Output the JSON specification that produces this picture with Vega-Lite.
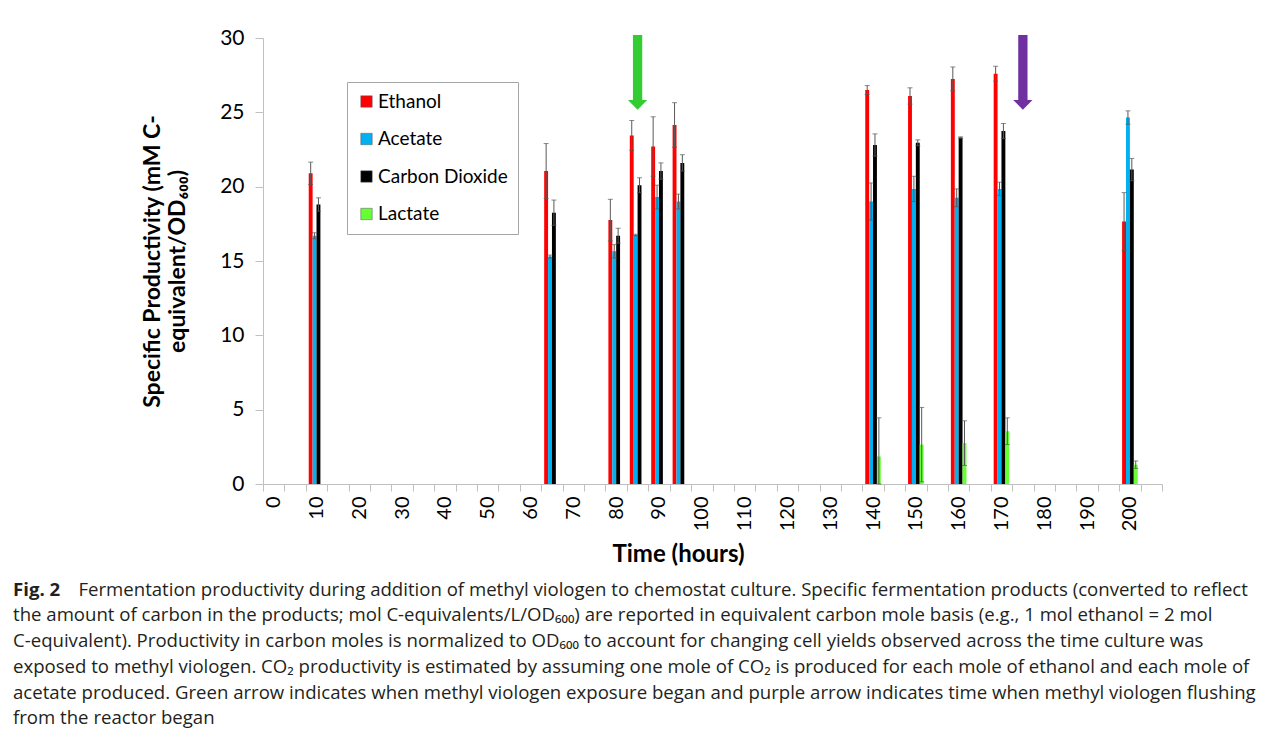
{
  "$schema": "https://vega.github.io/schema/vega-lite/v6.json",
  "autosize": "none",
  "padding": {"left": 263, "top": 38, "right": 122, "bottom": 256},
  "width": 899,
  "height": 446,
  "background": "white",
  "config": {
    "view": {"stroke": null},
    "font": "Lato"
  },
  "title": {
    "text": "Fig. 2",
    "subtitle": [
      "\u200b\u2003\u2003\u2003\u00a0\u00a0Fermentation productivity during addition of methyl viologen to chemostat culture. Specific fermentation products (converted to reflect",
      "the amount of carbon in the products; mol C-equivalents/L/OD₆₀₀) are reported in equivalent carbon mole basis (e.g., 1 mol ethanol = 2 mol",
      "C-equivalent). Productivity in carbon moles is normalized to OD₆₀₀ to account for changing cell yields observed across the time culture was",
      "exposed to methyl viologen. CO₂ productivity is estimated by assuming one mole of CO₂ is produced for each mole of ethanol and each mole of",
      "acetate produced. Green arrow indicates when methyl viologen exposure began and purple arrow indicates time when methyl viologen flushing",
      "from the reactor began"
    ],
    "orient": "bottom",
    "anchor": "start",
    "frame": "group",
    "dx": -250,
    "offset": 14,
    "font": "Open Sans",
    "fontSize": 18.6,
    "fontWeight": "bold",
    "color": "#231f20",
    "subtitleFont": "Open Sans",
    "subtitleFontSize": 18.6,
    "subtitleColor": "#231f20",
    "subtitleLineHeight": 25.7,
    "subtitlePadding": -18.6
  },
  "datasets": {
    "prod": [
      {"t": 10, "p": "Ethanol", "v": 20.9, "lo": 20.15, "hi": 21.65},
      {"t": 10, "p": "Acetate", "v": 16.7, "lo": 16.5, "hi": 16.9},
      {"t": 10, "p": "Carbon Dioxide", "v": 18.8, "lo": 18.35, "hi": 19.25},
      {"t": 65, "p": "Ethanol", "v": 21.05, "lo": 19.2, "hi": 22.9},
      {"t": 65, "p": "Acetate", "v": 15.3, "lo": 15.2, "hi": 15.4},
      {"t": 65, "p": "Carbon Dioxide", "v": 18.25, "lo": 17.4, "hi": 19.1},
      {"t": 80, "p": "Ethanol", "v": 17.75, "lo": 16.35, "hi": 19.15},
      {"t": 80, "p": "Acetate", "v": 15.65, "lo": 15.2, "hi": 16.1},
      {"t": 80, "p": "Carbon Dioxide", "v": 16.7, "lo": 16.2, "hi": 17.2},
      {"t": 85, "p": "Ethanol", "v": 23.45, "lo": 22.45, "hi": 24.45},
      {"t": 85, "p": "Acetate", "v": 16.75, "lo": 16.7, "hi": 16.8},
      {"t": 85, "p": "Carbon Dioxide", "v": 20.1, "lo": 19.6, "hi": 20.6},
      {"t": 90, "p": "Ethanol", "v": 22.7, "lo": 20.7, "hi": 24.7},
      {"t": 90, "p": "Acetate", "v": 19.3, "lo": 18.5, "hi": 20.1},
      {"t": 90, "p": "Carbon Dioxide", "v": 21.05, "lo": 20.5, "hi": 21.6},
      {"t": 95, "p": "Ethanol", "v": 24.15, "lo": 22.65, "hi": 25.65},
      {"t": 95, "p": "Acetate", "v": 19.0, "lo": 18.5, "hi": 19.5},
      {"t": 95, "p": "Carbon Dioxide", "v": 21.6, "lo": 21.05, "hi": 22.15},
      {"t": 140, "p": "Ethanol", "v": 26.5, "lo": 26.2, "hi": 26.8},
      {"t": 140, "p": "Acetate", "v": 19.0, "lo": 17.75, "hi": 20.25},
      {"t": 140, "p": "Carbon Dioxide", "v": 22.8, "lo": 22.05, "hi": 23.55},
      {"t": 140, "p": "Lactate", "v": 1.85, "lo": 0, "hi": 4.45},
      {"t": 150, "p": "Ethanol", "v": 26.1, "lo": 25.55, "hi": 26.65},
      {"t": 150, "p": "Acetate", "v": 19.85, "lo": 19.0, "hi": 20.7},
      {"t": 150, "p": "Carbon Dioxide", "v": 22.95, "lo": 22.75, "hi": 23.15},
      {"t": 150, "p": "Lactate", "v": 2.65, "lo": 0.15, "hi": 5.15},
      {"t": 160, "p": "Ethanol", "v": 27.25, "lo": 26.45, "hi": 28.05},
      {"t": 160, "p": "Acetate", "v": 19.25, "lo": 18.65, "hi": 19.85},
      {"t": 160, "p": "Carbon Dioxide", "v": 23.3, "lo": 23.25, "hi": 23.35},
      {"t": 160, "p": "Lactate", "v": 2.75, "lo": 1.25, "hi": 4.25},
      {"t": 170, "p": "Ethanol", "v": 27.6, "lo": 27.1, "hi": 28.1},
      {"t": 170, "p": "Acetate", "v": 19.85, "lo": 19.4, "hi": 20.3},
      {"t": 170, "p": "Carbon Dioxide", "v": 23.75, "lo": 23.25, "hi": 24.25},
      {"t": 170, "p": "Lactate", "v": 3.55, "lo": 2.65, "hi": 4.45},
      {"t": 200, "p": "Ethanol", "v": 17.65, "lo": 15.7, "hi": 19.6},
      {"t": 200, "p": "Acetate", "v": 24.65, "lo": 24.2, "hi": 25.1},
      {"t": 200, "p": "Carbon Dioxide", "v": 21.15, "lo": 20.4, "hi": 21.9},
      {"t": 200, "p": "Lactate", "v": 1.3, "lo": 1.05, "hi": 1.55}
    ],
    "arrows": [
      {"t": 85, "name": "methyl viologen exposure began", "top": 30.2, "base": 25.83, "c": "#33cc33"},
      {"t": 175, "name": "methyl viologen flushing began", "top": 30.2, "base": 25.83, "c": "#7030a0"}
    ]
  },
  "encoding": {
    "x": {
      "field": "t",
      "type": "ordinal",
      "scale": {
        "type": "band",
        "domain": [0,5,10,15,20,25,30,35,40,45,50,55,60,65,70,75,80,85,90,95,100,105,110,115,120,125,130,135,140,145,150,155,160,165,170,175,180,185,190,195,200,205],
        "paddingInner": 0,
        "paddingOuter": 0
      },
      "axis": {
        "title": "Time (hours)",
        "titleFont": "Lato",
        "titleFontSize": 24,
        "titleFontWeight": "bold",
        "titleColor": "#000000",
        "titlePadding": 12,
        "titleX": 415,
        "labelExpr": "datum.value % 10 === 0 ? datum.label : ''",
        "labelAngle": 270,
        "labelFont": "Lato",
        "labelFontSize": 20,
        "labelColor": "#000000",
        "labelPadding": 5,
        "labelOverlap": false,
        "tickBand": "extent",
        "tickSize": 7,
        "tickColor": "#c0c0c0",
        "domainColor": "#c0c0c0",
        "grid": false
      }
    }
  },
  "layer": [
    {
      "data": {"name": "prod"},
      "mark": {"type": "bar"},
      "encoding": {
        "xOffset": {
          "field": "p",
          "type": "nominal",
          "scale": {"domain": ["Ethanol", "Acetate", "Carbon Dioxide", "Lactate"], "paddingInner": 0, "paddingOuter": 0.75}
        },
        "y": {
          "field": "v",
          "type": "quantitative",
          "scale": {"domain": [0, 30], "nice": false},
          "axis": {
            "title": ["Specific Productivity (mM C-", "equivalent/OD₆₀₀)"],
            "titleFont": "Lato",
            "titleFontSize": 23,
            "titleFontWeight": "bold",
            "titleColor": "#000000",
            "titleLineHeight": 25,
            "titlePadding": 30,
            "values": [0, 5, 10, 15, 20, 25, 30],
            "labelFont": "Lato",
            "labelFontSize": 21,
            "labelColor": "#000000",
            "labelPadding": 11,
            "tickSize": 8,
            "tickColor": "#c0c0c0",
            "domainColor": "#c0c0c0",
            "grid": false
          }
        },
        "color": {
          "field": "p",
          "type": "nominal",
          "scale": {
            "domain": ["Ethanol", "Acetate", "Carbon Dioxide", "Lactate"],
            "range": ["#ff0000", "#00b0f0", "#000000", "#66ff33"]
          },
          "legend": {
            "title": null,
            "orient": "none",
            "legendX": 84,
            "legendY": 44,
            "fillColor": "white",
            "strokeColor": "#a6a6a6",
            "padding": 10,
            "symbolType": "square",
            "symbolSize": 130,
            "symbolStrokeColor": "#555555",
            "symbolStrokeWidth": 0.5,
            "labelFont": "Lato",
            "labelFontSize": 19,
            "labelColor": "#000000",
            "labelOffset": 2,
            "rowPadding": 17.5
          }
        }
      }
    },
    {
      "data": {"name": "prod"},
      "mark": {"type": "rule", "color": "#595959", "strokeWidth": 1},
      "encoding": {
        "xOffset": {"field": "p", "type": "nominal"},
        "y": {"field": "lo", "type": "quantitative"},
        "y2": {"field": "hi"}
      }
    },
    {
      "data": {"name": "prod"},
      "mark": {"type": "tick", "color": "#595959", "thickness": 1, "size": 5},
      "encoding": {
        "xOffset": {"field": "p", "type": "nominal"},
        "y": {"field": "hi", "type": "quantitative"}
      }
    },
    {
      "data": {"name": "prod"},
      "mark": {"type": "tick", "color": "#595959", "thickness": 1, "size": 5},
      "encoding": {
        "xOffset": {"field": "p", "type": "nominal"},
        "y": {"field": "lo", "type": "quantitative"}
      }
    },
    {
      "data": {"name": "arrows"},
      "mark": {"type": "bar", "width": 9.3},
      "encoding": {
        "y": {"field": "base", "type": "quantitative"},
        "y2": {"field": "top"},
        "color": {"field": "c", "type": "nominal", "scale": null}
      }
    },
    {
      "data": {"name": "arrows"},
      "mark": {"type": "point", "shape": "M-1,0L1,0L0,1Z", "filled": true, "opacity": 1, "size": 372, "strokeWidth": 0},
      "encoding": {
        "y": {"field": "base", "type": "quantitative"},
        "color": {"field": "c", "type": "nominal", "scale": null}
      }
    }
  ]
}
